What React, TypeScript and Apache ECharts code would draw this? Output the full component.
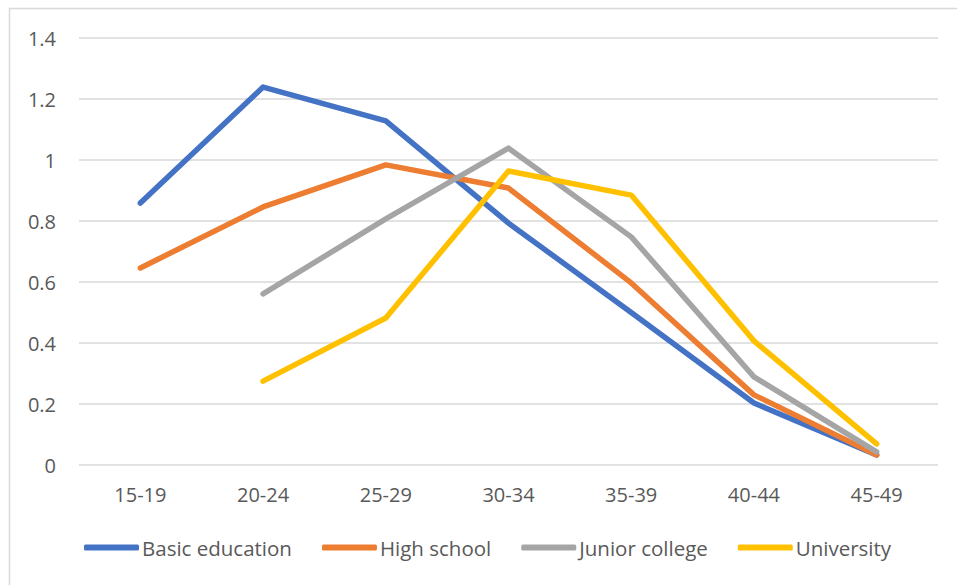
import React, { useEffect, useRef } from "react";
import * as echarts from "echarts";

const categories = ["15-19", "20-24", "25-29", "30-34", "35-39", "40-44", "45-49"];
const basicEducation = [0.859, 1.239, 1.128, 0.793, 0.50, 0.203, 0.033];
const highSchool = [0.646, 0.846, 0.984, 0.908, 0.597, 0.23, 0.033];
const juniorCollege = [null, 0.561, 0.807, 1.039, 0.748, 0.289, 0.043];
const university = [null, 0.275, 0.482, 0.964, 0.885, 0.407, 0.069];
const seriesNames = ["Basic education", "High school", "Junior college", "University"];
const colors = ["#4472C4", "#ED7D31", "#A5A5A5", "#FFC000"];

export default function App() {
  const ref = useRef<HTMLDivElement>(null);
  useEffect(() => {
    if (!ref.current) return;
    const chart = echarts.init(ref.current, undefined, { renderer: "svg" });
    const data = [basicEducation, highSchool, juniorCollege, university];
    const font = "'Open Sans', 'Noto Sans', sans-serif";
    chart.setOption({
      animation: false,
      backgroundColor: "#ffffff",
      color: colors,
      textStyle: { fontFamily: font },
      graphic: [
        {
          type: "rect",
          shape: { x: 9.5, y: 8.5, width: 1000, height: 1000 },
          style: { fill: "none", stroke: "#d9d9d9", lineWidth: 1.5 },
          silent: true,
        },
      ],
      grid: { left: 79, right: 19, top: 38, bottom: 120, containLabel: false },
      legend: {
        left: 79,
        top: 532,
        icon: "roundRect",
        itemWidth: 55,
        itemHeight: 6,
        itemGap: 30,
        textStyle: { color: "#595959", fontSize: 20.5, fontFamily: font, padding: [0, 0, 0, -2] },
        data: seriesNames,
      },
      xAxis: {
        type: "category",
        data: categories,
        boundaryGap: true,
        axisLine: { show: false },
        axisTick: { show: false },
        axisLabel: { color: "#595959", fontSize: 20, margin: 19, fontFamily: font },
      },
      yAxis: {
        type: "value",
        min: 0,
        max: 1.4,
        interval: 0.2,
        axisLine: { show: false },
        axisTick: { show: false },
        splitLine: { lineStyle: { color: "#d9d9d9", width: 1.5 } },
        axisLabel: {
          color: "#595959",
          fontSize: 20,
          margin: 23,
          fontFamily: font,
          formatter: (v: number) => String(Math.round(v * 10) / 10),
        },
      },
      series: seriesNames.map((name, i) => ({
        name,
        type: "line",
        data: data[i],
        symbol: "none",
        connectNulls: false,
        lineStyle: { width: 5.5, color: colors[i], cap: "round", join: "round" },
        itemStyle: { color: colors[i] },
      })),
    });
    return () => chart.dispose();
  }, []);
  return (
    <div
      ref={ref}
      style={{ position: "fixed", left: 0, top: 0, width: 957, height: 585 }}
    />
  );
}
